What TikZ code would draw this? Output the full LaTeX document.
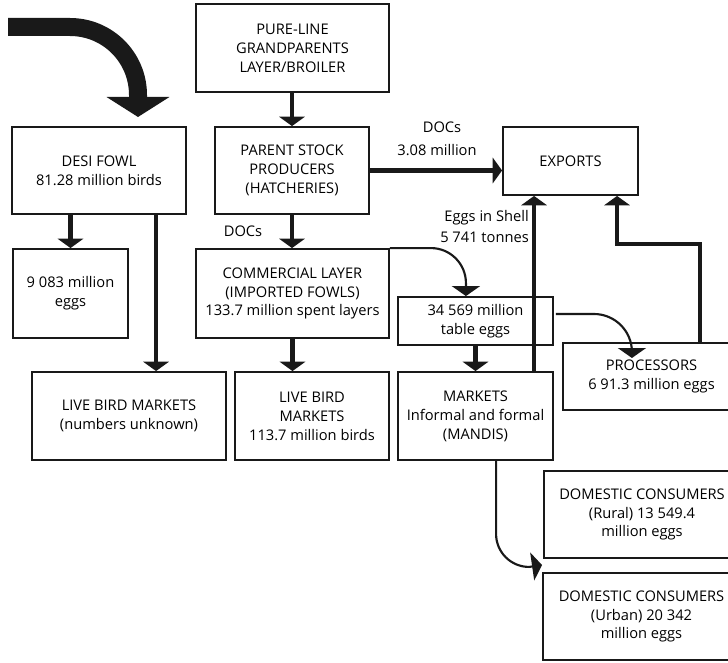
\documentclass[tikz,border=0pt]{standalone}
\usepackage{fontspec}
\setmainfont{Open Sans}
\usetikzlibrary{arrows.meta,calc}
\begin{document}
\begin{tikzpicture}[x=0.75pt,y=-0.75pt,
  box/.style={draw=black!90, line width=1.4pt, align=center, inner sep=0pt,
    text=black, font=\fontsize{11}{14.2}\selectfont},
  wh/.style 2 args={minimum width=#1*0.75pt, minimum height=#2*0.75pt},
  flow/.style={draw=black!90, line width=3.6pt, -{Triangle[width=19pt,length=7pt]}},
  curvedflow/.style={draw=black!90, line width=1.6pt, -{Triangle[width=21pt,length=7.5pt]}},
  lbl/.style={text=black, font=\fontsize{11}{14.2}\selectfont, inner sep=0pt}]
\useasboundingbox (0,0) rectangle (728,663);
\clip (0,0) rectangle (728,663);

% boxes
\node[box, wh={193}{88}] (pure) at (292.5,48) {PURE-LINE\\GRANDPARENTS\\LAYER/BROILER};
\node[box, wh={174}{87}] (desi) at (99,170.5) {DESI FOWL\\81.28 million birds};
\node[box, wh={154}{87}] (parent) at (292,170.5) {PARENT STOCK\\PRODUCERS\\(HATCHERIES)};
\node[box, wh={135}{68}] (exports) at (570.5,161) {EXPORTS};
\node[box, wh={115}{89}] (eggs) at (70.5,293.5) {9 083 million\\eggs};
\node[box, wh={193}{89}] (commercial) at (292.5,293.5) {COMMERCIAL LAYER\\(IMPORTED FOWLS)\\133.7 million spent layers};
\node[box, wh={155}{48}] (table) at (475.5,321) {34 569 million\\table eggs};
\node[box, wh={177}{67}] (proc) at (651.5,376.5) {PROCESSORS\\6 91.3 million eggs};
\node[box, wh={194}{88}] (lbmA) at (129,416) {LIVE BIRD MARKETS\\(numbers unknown)};
\node[box, wh={154}{88}] (lbmB) at (312,416) {LIVE BIRD\\MARKETS\\113.7 million birds};
\node[box, wh={155}{88}] (markets) at (475.5,416) {MARKETS\\Informal and formal\\(MANDIS)};
\node[box, wh={196}{87}] (rural) at (642,514.5) {DOMESTIC CONSUMERS\\(Rural) 13 549.4\\million eggs};
\node[box, wh={197}{87}] (urban) at (641.5,616.5) {DOMESTIC CONSUMERS\\(Urban) 20 342\\million eggs};

% big inflow arrow into desi fowl
\coordinate (inflow) at (8,27);
\coordinate (inflowtip) at (138,117);
\draw[draw=black!90, line width=13.5pt, -{Triangle[width=46.5pt,length=15pt]}]
  (inflow) -- (70,27) .. controls (107.6,27) and (138,57.4) .. (138,95) -- (inflowtip);

% straight flows
\draw[flow] (pure.south -| parent.north) -- (parent.north);
\draw[flow] (desi.south -| eggs.north) -- (eggs.north);
\draw[flow] ($(desi.south west)+(145,0)$) coordinate (d1) -- (d1 |- lbmA.north);
\draw[flow] (parent.south) -- (parent.south |- commercial.north);
\draw[flow] (parent.east) -- (parent.east -| exports.west);
\draw[flow] (commercial.south) -- (commercial.south |- lbmB.north);
\draw[flow] (table.south) -- (table.south |- markets.north);
\draw[flow] ($(markets.north west)+(137,0)$) coordinate (m1) -- (m1 |- exports.south);
\draw[flow] ($(proc.north west)+(138,0)$) coordinate (p1) -- ++(0,-98)
  -| ($(exports.south west)+(115,0)$);

% curved flows
\draw[curvedflow] (commercial.north east) -- ++(41,0)
  arc[start angle=-90, end angle=0, radius=35] -- ++(0,13);
\draw[curvedflow] ($(table.east)+(2,-7)$) -- ++(38,0)
  arc[start angle=-90, end angle=0, radius=38] -- ++(0,6);
\draw[curvedflow] ($(markets.south west)+(99,0)$) -- ++(0,73)
  arc[start angle=180, end angle=90, radius=33] -- ($(urban.north west)+(0,-7)$);

% labels
\node[lbl] (docA) at (243,231) {DOCs};
\node[lbl] (docB) at (442,127) {DOCs};
\node[lbl] (docC) at (437,150) {3.08 million};
\node[lbl, anchor=east] (shellA) at (529,218) {Eggs in Shell};
\node[lbl, anchor=east] (shellB) at (529,237) {5 741 tonnes};
\end{tikzpicture}
\end{document}
